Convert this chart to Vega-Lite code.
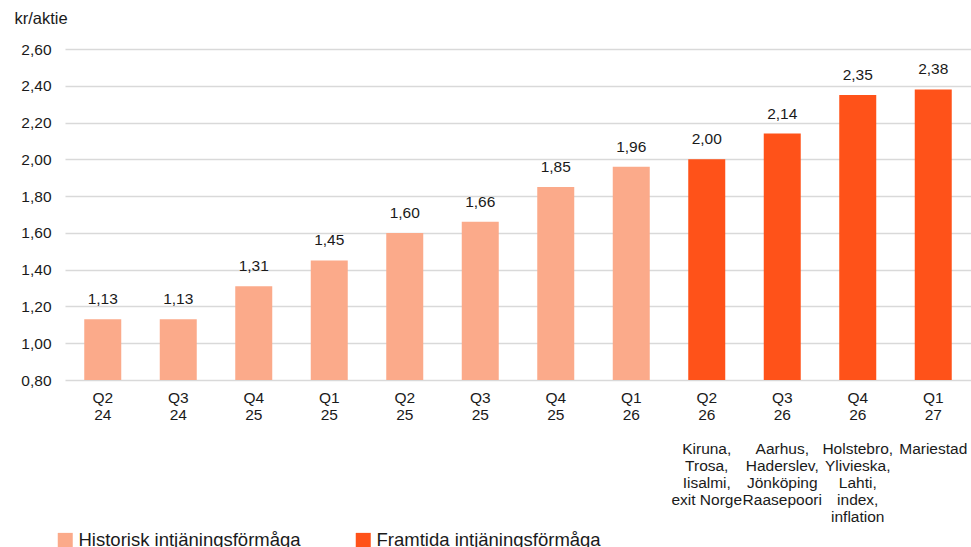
{
  "$schema": "https://vega.github.io/schema/vega-lite/v6.json",
  "autosize": "none",
  "width": 906,
  "height": 331,
  "padding": {"left": 65, "top": 49, "right": 0, "bottom": 167},
  "background": "white",
  "data": {
    "values": [
      {"kvartal": "Q2|24", "eps": 1.13, "typ": "Historisk intjäningsförmåga"},
      {"kvartal": "Q3|24", "eps": 1.13, "typ": "Historisk intjäningsförmåga"},
      {"kvartal": "Q4|25", "eps": 1.31, "typ": "Historisk intjäningsförmåga"},
      {"kvartal": "Q1|25", "eps": 1.45, "typ": "Historisk intjäningsförmåga"},
      {"kvartal": "Q2|25", "eps": 1.60, "typ": "Historisk intjäningsförmåga"},
      {"kvartal": "Q3|25", "eps": 1.66, "typ": "Historisk intjäningsförmåga"},
      {"kvartal": "Q4|25 ", "eps": 1.85, "typ": "Historisk intjäningsförmåga"},
      {"kvartal": "Q1|26", "eps": 1.96, "typ": "Historisk intjäningsförmåga"},
      {"kvartal": "Q2|26|\u200b|Kiruna,|Trosa,|Iisalmi,|exit Norge", "eps": 2.00, "typ": "Framtida intjäningsförmåga"},
      {"kvartal": "Q3|26|\u200b|Aarhus,|Haderslev,|Jönköping|Raasepoori", "eps": 2.14, "typ": "Framtida intjäningsförmåga"},
      {"kvartal": "Q4|26|\u200b|Holstebro,|Ylivieska,|Lahti,|index,|inflation", "eps": 2.35, "typ": "Framtida intjäningsförmåga"},
      {"kvartal": "Q1|27|\u200b|Mariestad", "eps": 2.38, "typ": "Framtida intjäningsförmåga"}
    ]
  },
  "encoding": {
    "x": {
      "field": "kvartal",
      "type": "nominal",
      "sort": null,
      "scale": {"paddingInner": 0.51, "paddingOuter": 0.255},
      "axis": {
        "title": null,
        "domain": false,
        "ticks": false,
        "labelAngle": 0,
        "labelExpr": "split(datum.label, '|')",
        "labelLineHeight": 17,
        "labelPadding": 10,
        "labelBaseline": "top",
        "labelFontSize": 15.5,
        "labelColor": "#1a1a1a",
        "labelLimit": 200
      }
    },
    "y": {
      "field": "eps",
      "type": "quantitative",
      "scale": {"domain": [0.8, 2.6], "nice": false, "zero": false},
      "axis": {
        "title": "kr/aktie",
        "titleAngle": 0,
        "titleAlign": "left",
        "titleBaseline": "middle",
        "titleX": -51,
        "titleY": -31,
        "titleFontSize": 16.5,
        "titleFontWeight": "normal",
        "titleColor": "#1a1a1a",
        "values": [0.8, 1.0, 1.2, 1.4, 1.6, 1.8, 2.0, 2.2, 2.4, 2.6],
        "format": ".2f",
        "domain": false,
        "ticks": false,
        "labelPadding": 14,
        "labelFontSize": 15.5,
        "labelColor": "#1a1a1a",
        "gridColor": "#d9d9d9",
        "gridWidth": 1.3
      }
    }
  },
  "layer": [
    {
      "mark": {"type": "bar", "clip": true},
      "encoding": {
        "color": {
          "field": "typ",
          "type": "nominal",
          "scale": {
            "domain": ["Historisk intjäningsförmåga", "Framtida intjäningsförmåga"],
            "range": ["#fbaa8a", "#ff5219"]
          },
          "legend": {
            "title": null,
            "orient": "none",
            "direction": "horizontal",
            "legendX": -9,
            "legendY": 482,
            "symbolType": "square",
            "symbolSize": 225,
            "symbolStrokeWidth": 0,
            "symbolOpacity": 1,
            "labelFontSize": 18.5,
            "labelColor": "#1a1a1a",
            "labelOffset": 4,
            "columnPadding": 53,
            "labelLimit": 400
          }
        }
      }
    },
    {
      "mark": {"type": "text", "baseline": "bottom", "dy": -12, "fontSize": 15.5, "color": "#1a1a1a"},
      "encoding": {
        "text": {"field": "eps", "type": "quantitative", "format": ".2f"}
      }
    }
  ],
  "config": {
    "font": "Liberation Sans",
    "view": {"stroke": null},
    "locale": {
      "number": {"decimal": ",", "thousands": " ", "grouping": [3], "currency": ["", " kr"]}
    }
  }
}
